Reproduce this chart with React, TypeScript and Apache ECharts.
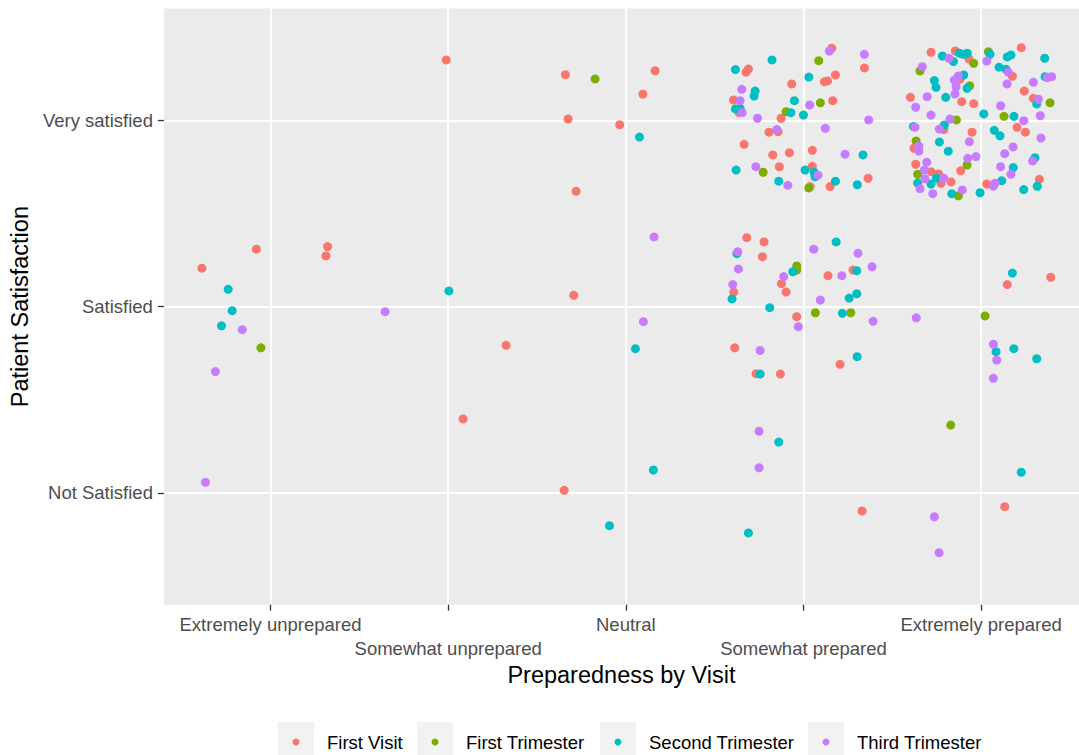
import React, { useEffect, useRef } from "react";
import * as echarts from "echarts";

const xCategories = [
  "Extremely unprepared",
  "Somewhat unprepared",
  "Neutral",
  "Somewhat prepared",
  "Extremely prepared",
];
const yCategories = ["Not Satisfied", "Satisfied", "Very satisfied"];
const seriesNames = ["First Visit", "First Trimester", "Second Trimester", "Third Trimester"];
const colors = ["#F8766D", "#7CAE00", "#00BFC4", "#C77CFF"];

// [preparedness (1..5, jittered), satisfaction (1..3, jittered)]
const firstVisit: [number, number][] = [
  [0.614, 2.206], [0.92, 2.308], [1.321, 2.322], [1.312, 2.272], [2.084, 1.397], [1.989, 3.324],
  [2.66, 3.245], [3.165, 3.266], [3.096, 3.14], [2.675, 3.007], [2.966, 2.976], [2.72, 2.619],
  [2.707, 2.061], [2.326, 1.792], [2.653, 1.014],
  [4.159, 3.387], [3.69, 3.275], [3.677, 3.258], [4.343, 3.281], [4.18, 3.243], [4.118, 3.207],
  [4.135, 3.211], [3.934, 3.195], [3.606, 3.109], [4.165, 3.105], [3.638, 3.041], [3.874, 3.011],
  [3.857, 2.939], [3.806, 2.936], [3.666, 2.871], [3.921, 2.826], [4.05, 2.839], [3.827, 2.814],
  [3.864, 2.751], [4.05, 2.753], [4.364, 2.689], [4.037, 2.644], [4.15, 2.644],
  [4.718, 3.365], [4.855, 3.372], [4.932, 3.329], [4.881, 3.22], [4.602, 3.123], [4.891, 3.1],
  [4.958, 3.089], [4.79, 2.95], [4.949, 2.936], [4.622, 2.85], [4.632, 2.764], [4.885, 2.729],
  [4.718, 2.724], [4.761, 2.712], [4.774, 2.662], [4.831, 2.669], [5.226, 3.39], [5.176, 3.236],
  [5.243, 3.157], [5.294, 3.118], [5.202, 2.962], [5.249, 2.936], [5.328, 2.683], [5.032, 2.658],
  [3.681, 2.37], [3.778, 2.347], [3.769, 2.268], [3.876, 2.123], [3.608, 2.078], [3.902, 2.078],
  [3.962, 1.946], [4.138, 2.166], [4.279, 2.196], [3.613, 1.779], [3.733, 1.64], [3.87, 1.638],
  [4.206, 1.69], [4.33, 0.903], [5.147, 2.118], [5.392, 2.157], [5.133, 0.926],
];

const firstTrimester: [number, number][] = [
  [0.946, 1.779], [2.827, 3.222], [4.086, 3.32], [4.095, 3.094], [3.902, 3.046], [3.773, 2.721],
  [4.03, 2.637], [4.958, 3.306], [4.656, 3.265], [4.936, 3.186], [4.861, 3.002], [4.634, 2.889],
  [4.921, 2.76], [4.643, 2.71], [4.872, 2.595], [5.041, 3.368], [5.129, 3.021], [5.388, 3.094],
  [3.962, 2.218], [3.962, 2.196], [4.067, 1.967], [4.266, 1.967], [5.022, 1.95], [4.829, 1.364],
];

const secondTrimester: [number, number][] = [
  [0.762, 2.093], [0.784, 1.978], [0.724, 1.897], [2.004, 2.084], [3.077, 2.91], [3.054, 1.774],
  [3.155, 1.123], [2.908, 0.824],
  [3.823, 3.324], [3.617, 3.272], [4.03, 3.232], [3.728, 3.157], [3.722, 3.13], [3.949, 3.105],
  [3.617, 3.061], [3.643, 3.064], [3.929, 3.041], [4.0, 3.028], [4.335, 2.814], [3.621, 2.733],
  [4.009, 2.733], [4.06, 2.721], [4.065, 2.697], [3.861, 2.673], [4.18, 2.673], [4.303, 2.654],
  [4.782, 3.345], [4.877, 3.36], [4.9, 3.354], [4.922, 3.36], [4.844, 3.315], [4.737, 3.213],
  [4.746, 3.177], [4.902, 3.243], [4.921, 3.172], [4.801, 3.123], [4.619, 2.966], [4.793, 2.975],
  [4.765, 2.884], [4.815, 2.834], [4.748, 2.689], [4.643, 2.663], [4.718, 2.658], [4.835, 2.606],
  [4.994, 2.611], [5.05, 3.354], [5.147, 3.34], [5.168, 3.351], [5.358, 3.333], [5.101, 3.285],
  [5.14, 3.274], [5.36, 3.234], [5.313, 3.088], [5.015, 3.034], [5.185, 3.021], [5.074, 2.946],
  [5.106, 2.917], [5.303, 2.799], [5.181, 2.746], [5.116, 2.676], [5.316, 2.646], [5.24, 2.628],
  [3.625, 2.284], [3.94, 2.187], [3.598, 2.041], [3.81, 1.994], [4.184, 2.347], [4.3, 2.193],
  [4.3, 2.069], [4.257, 2.046], [4.219, 1.964], [3.756, 1.638], [4.302, 1.731], [3.861, 1.273],
  [3.69, 0.785], [5.176, 2.18], [5.084, 1.758], [5.184, 1.774], [5.313, 1.72], [5.226, 1.111],
];

const thirdTrimester: [number, number][] = [
  [0.841, 1.876], [0.69, 1.651], [0.634, 1.057], [1.645, 1.973], [3.159, 2.374], [3.099, 1.919],
  [4.146, 3.372], [4.343, 3.354], [3.653, 3.166], [3.643, 3.105], [3.655, 3.041], [4.035, 3.082],
  [3.741, 3.011], [4.367, 3.002], [4.123, 2.957], [3.85, 2.95], [4.234, 2.818], [3.732, 2.751],
  [4.081, 2.706], [3.912, 2.651],
  [4.819, 3.333], [4.669, 3.288], [4.849, 3.216], [4.872, 3.238], [4.859, 3.18], [4.853, 3.141],
  [4.696, 3.127], [4.632, 3.07], [4.718, 3.028], [4.825, 3.007], [4.628, 2.962], [4.765, 2.953],
  [4.934, 2.885], [4.649, 2.862], [4.65, 2.835], [4.694, 2.775], [4.925, 2.796], [4.971, 2.805],
  [4.68, 2.733], [4.79, 2.689], [4.684, 2.685], [4.656, 2.633], [4.728, 2.606], [4.894, 2.626],
  [5.032, 3.318], [5.153, 3.258], [5.146, 3.195], [5.373, 3.229], [5.397, 3.234], [5.294, 3.204],
  [5.322, 3.113], [5.11, 3.078], [5.24, 2.998], [5.333, 3.025], [5.337, 2.905], [5.18, 2.857],
  [5.133, 2.821], [5.29, 2.782], [5.11, 2.751], [5.168, 2.71], [5.078, 2.662], [5.069, 2.647],
  [3.63, 2.295], [3.634, 2.202], [3.889, 2.161], [3.602, 2.118], [3.971, 1.892], [4.058, 2.308],
  [4.307, 2.286], [4.386, 2.214], [4.216, 2.166], [4.095, 2.035], [4.392, 1.921], [3.756, 1.765],
  [3.75, 1.331], [3.75, 1.135],
  [4.635, 1.94], [5.069, 1.798], [5.088, 1.713], [5.069, 1.615], [4.737, 0.872], [4.763, 0.679],
];

const seriesData = [firstVisit, firstTrimester, secondTrimester, thirdTrimester];
const xTicksUpperRow = [1, 3, 5];
const xTicksLowerRow = [2, 4];
const yTicks = [1, 2, 3];

const FONT = "'Liberation Sans', Arial, Helvetica, sans-serif";
const legendCenters = [296, 435, 618, 826];

const makeXAxis = (ticks: number[], margin: number, withName: boolean): any => ({
  type: "value",
  position: "bottom",
  offset: 0,
  min: 0.4,
  max: 5.551,
  axisLine: { show: false },
  axisTick: {
    show: true,
    length: 6,
    customValues: ticks,
    lineStyle: { color: "#333333", width: 1.3 },
  },
  axisLabel: {
    customValues: ticks,
    showMinLabel: true,
    showMaxLabel: true,
    formatter: (v: number) => xCategories[Math.round(v) - 1],
    color: "#4D4D4D",
    fontSize: 18.5,
    lineHeight: 24,
    margin,
    fontFamily: FONT,
  },
  splitLine: { show: true, lineStyle: { color: "#FFFFFF", width: 1.8 } },
  name: withName ? "Preparedness by Visit" : "",
  nameLocation: "middle",
  nameGap: 58,
  nameTextStyle: { color: "#000000", fontSize: 23.5, fontFamily: FONT },
});

export default function App() {
  const ref = useRef<HTMLDivElement>(null);

  useEffect(() => {
    document.body.style.margin = "0";
    const chart = echarts.init(ref.current!, null, { renderer: "svg" });
    const option: any = {
      animation: false,
      backgroundColor: "#FFFFFF",
      grid: {
        left: 163.3,
        right: 0,
        top: 8.5,
        bottom: 150.3,
        show: true,
        backgroundColor: "#EBEBEB",
        borderWidth: 0,
      },
      xAxis: [makeXAxis(xTicksUpperRow, 8, true), makeXAxis(xTicksLowerRow, 32, false)],
      yAxis: {
        type: "value",
        min: 0.4,
        max: 3.6,
        axisLine: { show: false },
        axisTick: {
          show: true,
          length: 6,
          customValues: yTicks,
          lineStyle: { color: "#333333", width: 1.3 },
        },
        axisLabel: {
          customValues: yTicks,
          showMinLabel: true,
          showMaxLabel: true,
          formatter: (v: number) => yCategories[Math.round(v) - 1],
          color: "#4D4D4D",
          fontSize: 18.5,
          margin: 11,
          fontFamily: FONT,
        },
        splitLine: { show: true, lineStyle: { color: "#FFFFFF", width: 1.8 } },
        name: "Patient Satisfaction",
        nameLocation: "middle",
        nameGap: 129,
        nameRotate: 90,
        nameTextStyle: { color: "#000000", fontSize: 23.5, fontFamily: FONT },
      },
      legend: seriesNames.map((n, i) => ({
        data: [n],
        left: legendCenters[i] - 3.5,
        top: 732,
        padding: 0,
        itemWidth: 52,
        itemHeight: 7,
        icon: "circle",
        selectedMode: false,
        textStyle: { color: "#000000", fontSize: 18.5, lineHeight: 20, fontFamily: FONT },
      })),
      graphic: legendCenters.map((c) => ({
        type: "rect",
        shape: { x: c - 18, y: 722, width: 36, height: 36 },
        style: { fill: "#F2F2F2" },
        silent: true,
        z: -1,
      })),
      series: seriesNames.map((n, i) => ({
        name: n,
        type: "scatter",
        xAxisIndex: 0,
        data: seriesData[i],
        symbol: "circle",
        symbolSize: 9,
        itemStyle: { color: colors[i], opacity: 1 },
        emphasis: { disabled: true },
      })),
    };
    chart.setOption(option);
    return () => chart.dispose();
  }, []);

  return <div ref={ref} style={{ width: 1079, height: 755 }} />;
}
